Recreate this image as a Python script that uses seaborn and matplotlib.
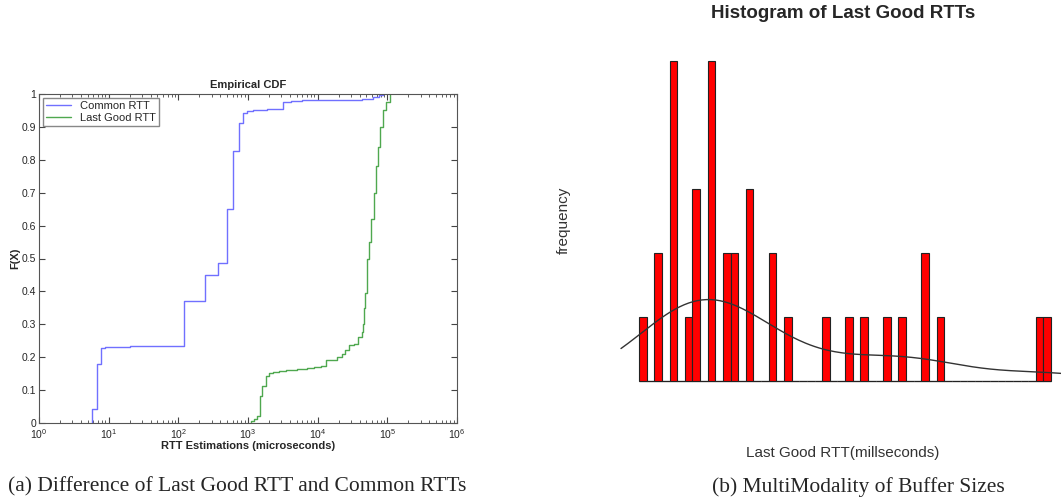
import numpy as np
import matplotlib
matplotlib.use("Agg")
import matplotlib.pyplot as plt
import seaborn as sns
from matplotlib.ticker import FixedLocator, LogFormatterSciNotation, MultipleLocator, FuncFormatter

# (a) empirical CDF: RTT values (microseconds) where the curve steps up, and F(X) right after the step
common_rtt = [5.85, 6.75, 7.7, 9, 10.5, 20, 121, 244, 366, 493, 609, 743, 857, 956,
              1194, 1855, 3150, 4200, 6000, 43000, 63000, 75000, 88000]
common_cdf = [0.043, 0.18, 0.228, 0.230, 0.232, 0.234, 0.372, 0.45, 0.487, 0.65, 0.827, 0.912, 0.942, 0.947,
              0.950, 0.953, 0.976, 0.980, 0.983, 0.984, 0.992, 0.996, 1.0]
good_rtt = [1090, 1200, 1330, 1480, 1600, 1800, 1980, 2300, 2800, 3500, 5000, 7000, 9000, 11000, 13000,
            16000, 19000, 22000, 25000, 28000, 33000, 38000, 43000, 44500, 46000, 48000, 50800, 54000,
            58000, 64700, 68000, 72300, 79000, 88000, 96000, 107600]
good_cdf = [0.006, 0.012, 0.022, 0.083, 0.113, 0.142, 0.152, 0.156, 0.159, 0.162, 0.164, 0.166, 0.170, 0.174, 0.19,
            0.192, 0.2, 0.21, 0.222, 0.237, 0.24, 0.26, 0.277, 0.30, 0.35, 0.395, 0.5, 0.55,
            0.62, 0.7, 0.78, 0.84, 0.9, 0.952, 0.975, 1.0]

# (b) histogram of last good RTTs (milliseconds), 2 ms bins
rtt_ms = [21, 25, 29, 33, 35, 39, 43, 45, 49, 55, 59, 69, 75, 79, 85, 89, 95, 99, 125, 127]
rtt_count = [1, 2, 5, 1, 3, 5, 2, 2, 3, 2, 1, 1, 1, 1, 1, 1, 2, 1, 1, 1]
bin_edges = np.arange(20, 130, 2)

sns.set_theme(style="ticks")
plt.rcParams['font.family'] = ['Liberation Sans', 'DejaVu Sans']
plt.rcParams['mathtext.default'] = 'regular'

W, H = 1061, 504
fig = plt.figure(figsize=(W / 100, H / 100), dpi=100)

# ---- left: empirical CDF
ax1 = fig.add_axes([39 / W, (H - 423) / H, 418 / W, 329 / H])
w_common = np.diff(np.r_[0, common_cdf])
w_good = np.diff(np.r_[0, good_cdf])
sns.ecdfplot(x=common_rtt, weights=w_common, log_scale=True, ax=ax1, color="#7070ff", lw=1, label="Common RTT")
sns.ecdfplot(x=good_rtt, weights=w_good, log_scale=True, ax=ax1, color="#4fa84f", lw=1, label="Last Good RTT")
ax1.set_xlim(1, 1e6)
ax1.set_ylim(0, 1)
ax1.yaxis.set_major_locator(MultipleLocator(0.1))
ax1.yaxis.set_major_formatter(FuncFormatter(lambda v, _: f"{v:g}"))
decades = 10.0 ** np.arange(0, 7)
ax1.xaxis.set_major_locator(FixedLocator(decades))
ax1.xaxis.set_major_formatter(LogFormatterSciNotation())
ax1.xaxis.set_minor_locator(FixedLocator(np.outer(decades[:-1], np.arange(2, 10)).ravel()))
ax1.tick_params(which="both", direction="in", top=True, right=True, labelsize=7.5, pad=2, color="#444")
ax1.tick_params(axis="x", pad=3)
ax1.tick_params(which="major", length=4, width=0.8)
ax1.tick_params(which="minor", length=2.5, width=0.6)
for s in ax1.spines.values():
    s.set_color("#555")
    s.set_linewidth(0.8)
ax1.set_title("Empirical CDF", fontsize=8, fontweight="bold", pad=4)
ax1.set_xlabel("RTT Estimations (microseconds)", fontsize=8, fontweight="bold", labelpad=0)
ax1.set_ylabel("F(X)", fontsize=8, fontweight="bold", labelpad=1)
ax1.legend(loc="upper left", fontsize=8, fancybox=False, framealpha=1, edgecolor="#888",
           borderaxespad=0.35, handlelength=2.2, borderpad=0.3, labelspacing=0.15)

# ---- right: histogram with density curve
ax2 = fig.add_axes([600 / W, (H - 400) / H, 461 / W, 360 / H])
sns.histplot(x=np.repeat(rtt_ms, rtt_count), bins=bin_edges, kde=True, kde_kws={"cut": 0.42},
             color="#ff0000", alpha=1, edgecolor="#222", linewidth=0.8, ax=ax2)
ax2.lines[-1].set_color("#333")
ax2.lines[-1].set_linewidth(1)
ax2.hlines(0, bin_edges[0], bin_edges[-1], color="#888", lw=1, zorder=0.5)
ax2.set_xlim(9.78, 130.6)
ax2.set_ylim(-0.297, 5.33)
ax2.axis("off")

fig.text(843 / W, 1 - 14 / H, "Histogram of Last Good RTTs", fontsize=13.5, fontweight="bold",
         ha="center", va="center")
fig.text(564 / W, 1 - 220 / H, "frequency", fontsize=11, color="#333", rotation=90, ha="center", va="center")
fig.text(843 / W, 1 - 453 / H, "Last Good RTT(millseconds)", fontsize=11, color="#333", ha="center", va="center")

# captions
fig.text(237 / W, 1 - 487 / H, "(a) Difference of Last Good RTT and Common RTTs", fontsize=15.5,
         family="Liberation Serif", ha="center", va="center")
fig.text(858 / W, 1 - 487 / H, "(b) MultiModality of Buffer Sizes", fontsize=15.5,
         family="Liberation Serif", ha="center", va="center")

fig.savefig("out.png", dpi=100, facecolor="white")
